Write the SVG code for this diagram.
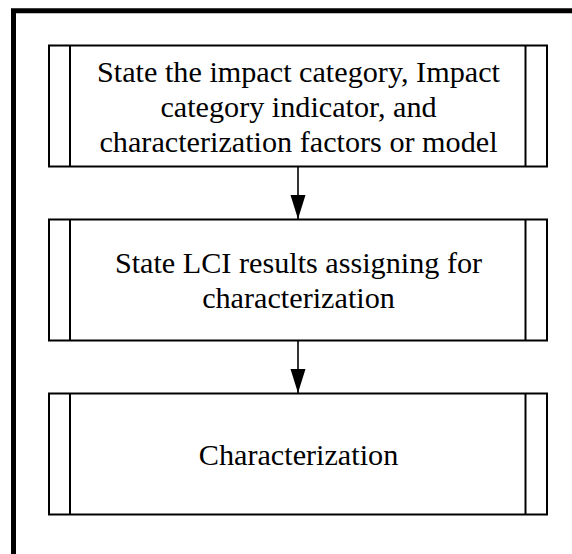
<svg xmlns="http://www.w3.org/2000/svg" width="572" height="554" viewBox="0 0 572 554">
  <style>
    .box { fill: #ffffff; stroke: #000000; stroke-width: 2; }
    .bar { stroke: #000000; stroke-width: 2; }
    .label { font-family: "Liberation Serif", "Times New Roman", serif; font-size: 30.2px; fill: #000000; text-anchor: middle; }
    .link { stroke: #000000; stroke-width: 1.6; fill: none; }
  </style>
  <defs>
    <!-- filled triangular head, drawn along +x so orient="auto" follows the line -->
    <marker id="arrow" markerUnits="userSpaceOnUse" markerWidth="25" markerHeight="16" refX="24" refY="8" orient="auto" viewBox="0 0 25 16">
      <polygon points="0,0.5 24,8 0,15.5" fill="#000000"/>
    </marker>
  </defs>
  <rect width="572" height="554" fill="#ffffff"/>

  <!-- frame: top and left edges -->
  <path d="M13.5,554 V10.8 H572" fill="none" stroke="#000000" stroke-width="5" stroke-linejoin="miter"/>

  <g id="node-state-category">
    <rect class="box" x="49" y="45.5" width="498" height="121"/>
    <line class="bar" x1="70" y1="45.5" x2="70" y2="166.5"/>
    <line class="bar" x1="525.5" y1="45.5" x2="525.5" y2="166.5"/>
    <text class="label" x="298.5" y="81.5">State the impact category, Impact</text>
    <text class="label" x="298.5" y="116.5">category indicator, and</text>
    <text class="label" x="298.5" y="151.5">characterization factors or model</text>
  </g>

  <g id="node-state-lci">
    <rect class="box" x="49" y="219.5" width="498" height="121"/>
    <line class="bar" x1="70" y1="219.5" x2="70" y2="340.5"/>
    <line class="bar" x1="525.5" y1="219.5" x2="525.5" y2="340.5"/>
    <text class="label" x="298.5" y="273.3">State LCI results assigning for</text>
    <text class="label" x="298.5" y="308.3">characterization</text>
  </g>

  <g id="node-characterization">
    <rect class="box" x="49" y="393.5" width="498" height="121"/>
    <line class="bar" x1="70" y1="393.5" x2="70" y2="514.5"/>
    <line class="bar" x1="525.5" y1="393.5" x2="525.5" y2="514.5"/>
    <text class="label" x="298.5" y="465">Characterization</text>
  </g>

  <g id="connectors">
    <line class="link" x1="298" y1="167" x2="298" y2="219" marker-end="url(#arrow)"/>
    <line class="link" x1="298" y1="341" x2="298" y2="393" marker-end="url(#arrow)"/>
  </g>
</svg>
